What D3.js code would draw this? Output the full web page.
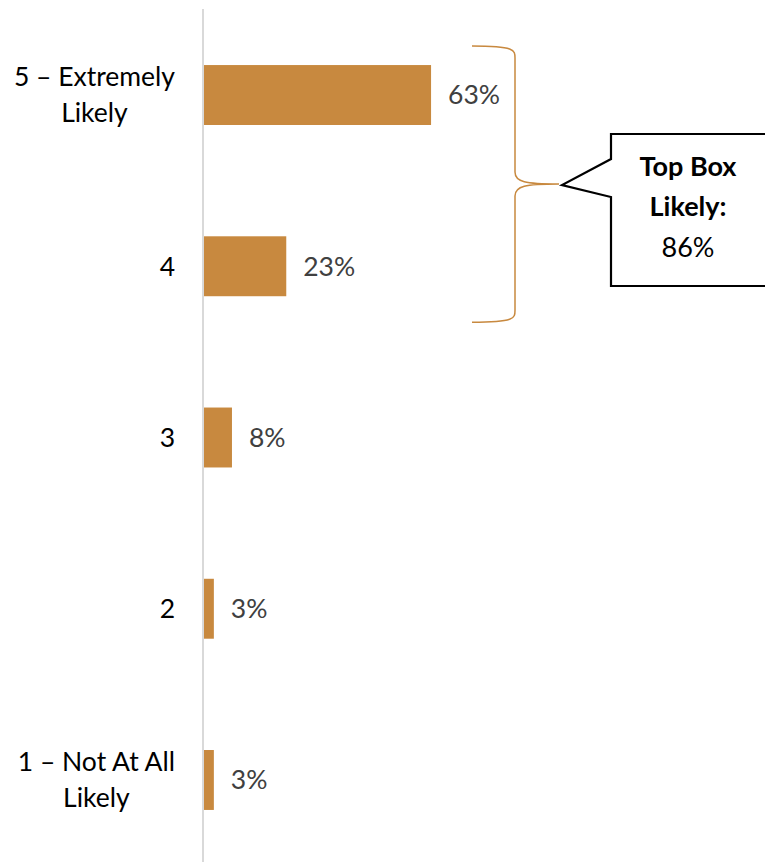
<!DOCTYPE html>
<html><head><meta charset="utf-8">
<script src="https://cdn.jsdelivr.net/npm/d3@7"></script>
<style>html,body{margin:0;padding:0;background:#fff;}svg{display:block;}</style>
</head><body>
<svg id="c" width="765" height="863"></svg>
<script>
const categories = ["5 – Extremely Likely", "4", "3", "2", "1 – Not At All Likely"];
const categoryLines = [["5 – Extremely", "Likely"], ["4"], ["3"], ["2"], ["1 – Not At All", "Likely"]];
const values = [63, 23, 8, 3, 3];
const valueLabels = ["63%", "23%", "8%", "3%", "3%"];
const calloutLines = ["Top Box", "Likely:", "86%"];

const svg = d3.select("#c");
const font = "Lato, 'Open Sans', sans-serif";
const barColor = "#C8893F";
const fs = 26.5;

const y = d3.scaleBand().domain(categories).range([9.4, 865.6]).paddingInner(0.65).paddingOuter(0.325);
const x = d3.scaleLinear().domain([0, 100]).range([203, 565]);

// axis line
svg.append("line").attr("x1", x(0)).attr("x2", x(0)).attr("y1", 9).attr("y2", 862)
  .attr("stroke", "#d9d9d9").attr("stroke-width", 2);

// bars
svg.selectAll("rect.bar").data(categories).enter().append("rect")
  .attr("x", x(0) + 1).attr("y", d => y(d))
  .attr("width", (d, i) => x(values[i]) - x(0) - 1).attr("height", y.bandwidth())
  .attr("fill", barColor);

// value labels
svg.selectAll("text.val").data(categories).enter().append("text")
  .attr("x", (d, i) => x(values[i]) + 17).attr("y", d => y(d) + y.bandwidth() / 2)
  .attr("dy", "0.35em").attr("font-family", font).attr("font-size", fs)
  .attr("fill", "#404040").text((d, i) => valueLabels[i]);

// category labels
const lineH = 36;
const labelRight = 175;
categories.forEach((c, i) => {
  const lines = categoryLines[i];
  const cy = y(c) + y.bandwidth() / 2;
  const t = svg.append("text").attr("font-family", font).attr("font-size", fs).attr("fill", "#000");
  if (lines.length === 1) {
    t.attr("x", labelRight).attr("y", cy).attr("dy", "0.35em").attr("text-anchor", "end").text(lines[0]);
  } else {
    t.attr("text-anchor", "middle");
    const spans = lines.map((l, j) => t.append("tspan").attr("y", cy - lineH / 2 + j * lineH).attr("dy", "0.35em").text(l));
    const maxW = d3.max(spans, s => s.node().getComputedTextLength());
    spans.forEach(s => s.attr("x", labelRight - maxW / 2));
  }
});

// brace
const bTop = y(categories[0]) - 19, bBot = y(categories[1]) + y.bandwidth() + 26;
const bx0 = 472, bx1 = 515, tipX = 559, tipY = 184;
const brace = d3.path();
brace.moveTo(bx0, bTop);
brace.bezierCurveTo(bx1, bTop, bx1, bTop + 4, bx1, bTop + 12);
brace.lineTo(bx1, tipY - 12);
brace.bezierCurveTo(bx1, tipY - 2, bx1 + 10, tipY, tipX, tipY);
brace.moveTo(tipX, tipY);
brace.bezierCurveTo(bx1 + 10, tipY, bx1, tipY + 2, bx1, tipY + 12);
brace.lineTo(bx1, bBot - 12);
brace.bezierCurveTo(bx1, bBot - 4, bx1, bBot, bx0, bBot);
svg.append("path").attr("d", brace.toString()).attr("fill", "none")
  .attr("stroke", barColor).attr("stroke-width", 1.5);

// callout
const bxL = 611, byT = 134, byB = 286, bxR = 780;
const cp = d3.path();
cp.moveTo(bxL, byT);
cp.lineTo(bxR, byT);
cp.lineTo(bxR, byB);
cp.lineTo(bxL, byB);
cp.lineTo(bxL, 197);
cp.lineTo(562, 185);
cp.lineTo(bxL, 159);
cp.closePath();
svg.append("path").attr("d", cp.toString()).attr("fill", "#fff").attr("stroke", "#000").attr("stroke-width", 2.2);

const cxC = 688;
const cBase = [176, 216, 257];
calloutLines.forEach((l, j) => {
  svg.append("text").attr("x", cxC).attr("y", cBase[j]).attr("text-anchor", "middle")
    .attr("font-family", font).attr("font-size", 27).attr("font-weight", j < 2 ? "bold" : "normal")
    .attr("fill", "#000").text(l);
});
</script>
</body></html>
